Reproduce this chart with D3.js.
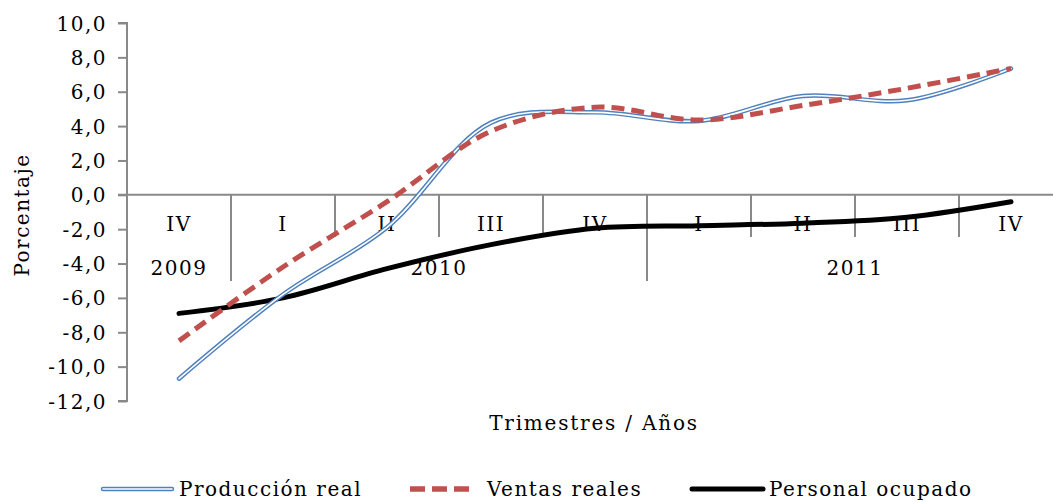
<!DOCTYPE html>
<html><head><meta charset="utf-8">
<script src="https://cdn.jsdelivr.net/npm/d3@7"></script>
<style>
html,body{margin:0;padding:0;background:#fff;}
svg{display:block;}
text{font-family:"DejaVu Serif",serif;fill:#000;}
</style></head>
<body>
<svg id="c" width="1053" height="502"></svg>
<script>
const quarters = ["IV","I","II","III","IV","I","II","III","IV"];
const years = [{label:"2009",start:0,end:1},{label:"2010",start:1,end:5},{label:"2011",start:5,end:9}];
const produccion = [-10.7,-5.8,-1.9,4.2,4.8,4.3,5.75,5.5,7.35];
const ventas = [-8.5,-4.2,-0.4,3.7,5.1,4.35,5.2,6.2,7.35];
const personal = [-6.9,-6.0,-4.3,-2.9,-1.95,-1.8,-1.65,-1.3,-0.4];
const yTicks = [10,8,6,4,2,0,-2,-4,-6,-8,-10,-12];
const seriesNames = ["Producción real","Ventas reales","Personal ocupado"];

const svg = d3.select("#c");
const gray = "#898989";
const x0 = 127, x1 = 1063;
const x = d3.scaleBand().domain(d3.range(quarters.length)).range([x0, x1]);
const y = d3.scaleLinear().domain([-12,10]).range([401,23]);
const fmt = v => d3.format(".1f")(v).replace(".",",").replace("−","-");

// y axis
const yAxis = d3.axisLeft(y).tickValues(yTicks).tickSize(9).tickFormat(fmt);
const ga = svg.append("g").attr("transform",`translate(${x0},0)`).call(yAxis);
ga.select(".domain").attr("stroke",gray).attr("stroke-width",2).attr("d",`M-9,${y(10)}H0V${y(-12)}H-9`);
ga.selectAll(".tick line").attr("stroke",gray).attr("stroke-width",2);
ga.selectAll(".tick text").attr("x",-20).attr("dy","0.35em")
  .style("font-family","DejaVu Serif").style("font-size","20px").style("letter-spacing","1.5px");

// zero line
svg.append("line").attr("x1",x0-9).attr("x2",1053).attr("y1",y(0)).attr("y2",y(0))
  .attr("stroke",gray).attr("stroke-width",2);

// category separators
const yearStarts = new Set(years.map(d=>d.start).concat([9]));
for (let i=1;i<=quarters.length;i++){
  const xx = i<quarters.length ? x(i) : x1;
  const long = yearStarts.has(i);
  svg.append("line").attr("x1",xx).attr("x2",xx).attr("y1",y(0)).attr("y2",long?281:237)
    .attr("stroke",gray).attr("stroke-width",2);
}
svg.append("line").attr("x1",x0).attr("x2",x0).attr("y1",y(0)).attr("y2",281).attr("stroke",gray).attr("stroke-width",2);

// category labels
svg.append("g").selectAll("text").data(quarters).join("text")
  .attr("x",(d,i)=>x(i)+x.bandwidth()/2).attr("y",224).attr("dy","0.35em")
  .attr("text-anchor","middle").style("font-size","20px").style("letter-spacing","1.5px").text(d=>d);
svg.append("g").selectAll("text").data(years).join("text")
  .attr("x",d=>(x(d.start)+(d.end<9?x(d.end):x1))/2).attr("y",268).attr("dy","0.35em")
  .attr("text-anchor","middle").style("font-size","20px").style("letter-spacing","1.5px").text(d=>d.label);

// axis titles
svg.append("text").attr("transform","translate(22,215) rotate(-90)").attr("text-anchor","middle").attr("dy","0.35em")
  .style("font-size","20px").style("letter-spacing","1.5px").text("Porcentaje");
svg.append("text").attr("x",594).attr("y",423).attr("text-anchor","middle").attr("dy","0.35em")
  .style("font-size","20px").style("letter-spacing","1.8px").text("Trimestres / Años");

// lines
const line = d3.line().x((d,i)=>x(i)+x.bandwidth()/2).y(d=>y(d)).curve(d3.curveCatmullRom.alpha(0.5));
svg.append("path").attr("d",line(personal)).attr("fill","none").attr("stroke","#000").attr("stroke-width",5).attr("stroke-linecap","round");
svg.append("path").attr("d",line(produccion)).attr("fill","none").attr("stroke","#4F81BD").attr("stroke-width",4.5).attr("stroke-linecap","round");
svg.append("path").attr("d",line(produccion)).attr("fill","none").attr("stroke","#fff").attr("stroke-width",1.6).attr("stroke-linecap","round");
svg.append("path").attr("d",line(ventas)).attr("fill","none").attr("stroke","#C0504D").attr("stroke-width",5).attr("stroke-dasharray","13,7");

// legend
const ly = 489;
const leg = svg.append("g");
leg.append("line").attr("x1",103).attr("x2",172).attr("y1",ly).attr("y2",ly).attr("stroke","#4F81BD").attr("stroke-width",4.5).attr("stroke-linecap","round");
leg.append("line").attr("x1",103).attr("x2",172).attr("y1",ly).attr("y2",ly).attr("stroke","#fff").attr("stroke-width",1.6).attr("stroke-linecap","round");
leg.append("line").attr("x1",410).attr("x2",470).attr("y1",ly).attr("y2",ly).attr("stroke","#C0504D").attr("stroke-width",5.5).attr("stroke-dasharray","15,7").attr("stroke-linecap","butt");
leg.append("line").attr("x1",692).attr("x2",763).attr("y1",ly).attr("y2",ly).attr("stroke","#000").attr("stroke-width",5).attr("stroke-linecap","round");
const lx = [179,487,769];
leg.selectAll("text").data(seriesNames).join("text").attr("x",(d,i)=>lx[i]).attr("y",ly).attr("dy","0.35em")
  .style("font-size","20px").style("letter-spacing","1.5px").text(d=>d);
</script>
</body></html>
